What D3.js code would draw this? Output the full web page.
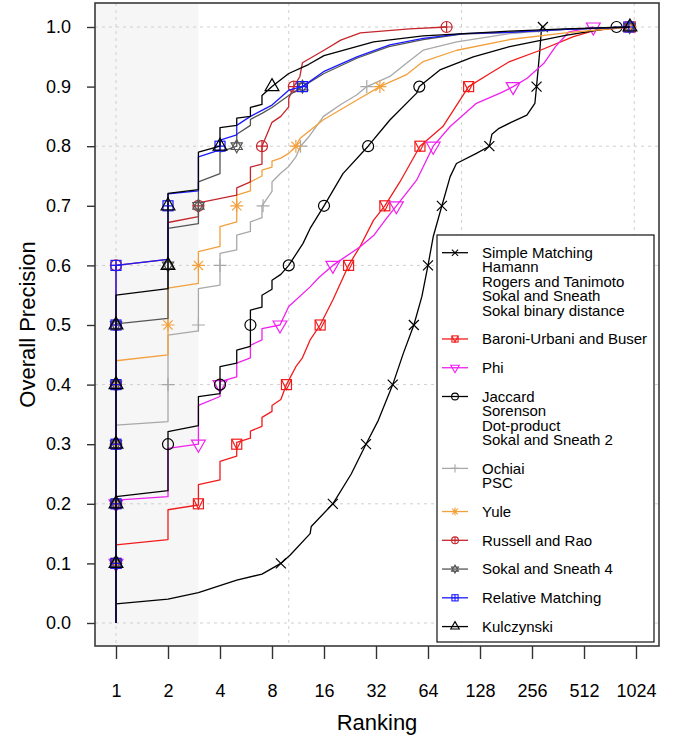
<!DOCTYPE html>
<html>
<head>
<meta charset="utf-8">
<script src="https://cdn.jsdelivr.net/npm/d3@7"></script>
<style>
  body { margin: 0; background: #fff; }
  svg { display: block; font-family: "Liberation Sans", Arial, Helvetica, sans-serif; }
</style>
</head>
<body>
<div id="chart"></div>
<script>
// Precision levels where the markers sit
const levels = [0.1, 0.2, 0.3, 0.4, 0.5, 0.6, 0.7, 0.8, 0.9, 1.0];
const xTicks = [1, 2, 4, 8, 16, 32, 64, 128, 256, 512, 1024];
const yTicks = [0, 0.1, 0.2, 0.3, 0.4, 0.5, 0.6, 0.7, 0.8, 0.9, 1.0];
const xGrid = [1, 10, 100, 1000];
const yGrid = [0, 0.2, 0.4, 0.6, 0.8, 1.0];
const shadeTo = 3;

// [ranking, precision] vertices
const smCurve = [[1,0],[1,0.032],[2,0.04],[3,0.051],[5,0.072],[7,0.082],[9,0.1],[10.2,0.114],[13.3,0.15],[13.5,0.162],[18,0.2],[23,0.25],[28,0.3],[33,0.34],[40,0.4],[46,0.452],[53,0.5],[59,0.548],[64,0.6],[68.6,0.648],[77,0.7],[86,0.749],[93.5,0.771],[122,0.788],[145,0.8],[150,0.82],[165,0.83],[191,0.839],[239,0.852],[266,0.872],[272,0.9],[284,0.96],[291,1.0],[296,1.0]];
const baroniCurve = [[1,0],[1,0.131],[2,0.14],[2,0.19],[3,0.198],[3,0.232],[4,0.24],[4,0.271],[5,0.28],[5,0.303],[6,0.31],[6,0.322],[7,0.33],[7,0.345],[8,0.355],[8,0.365],[9,0.375],[9.7,0.4],[11,0.43],[12,0.445],[13.3,0.475],[15.2,0.5],[18,0.542],[22.2,0.6],[25.8,0.631],[31,0.676],[36,0.7],[44,0.74],[57.5,0.8],[78,0.833],[110,0.9],[146,0.922],[190,0.942],[286,0.961],[445,0.984],[605,0.995],[950,1.0]];
const phiCurve = [[1,0],[1,0.206],[2,0.212],[2,0.293],[3,0.3],[3,0.365],[4,0.38],[4,0.405],[5,0.413],[5,0.436],[6,0.445],[6,0.466],[7,0.475],[7,0.494],[8.9,0.5],[10,0.531],[13.3,0.564],[15,0.58],[18,0.6],[25.8,0.631],[31,0.65],[36.8,0.679],[42,0.7],[55,0.743],[68.6,0.8],[86,0.833],[122,0.872],[170,0.89],[199,0.9],[240,0.914],[300,0.939],[350,0.967],[420,0.992],[580,1.0]];
const jaccardCurve = [[1,0],[1,0.212],[2,0.222],[2,0.321],[3,0.331],[3,0.38],[4,0.385],[4,0.43],[5,0.436],[5,0.458],[6,0.464],[6,0.525],[7,0.53],[7,0.55],[8,0.56],[8,0.575],[9,0.585],[10,0.6],[12.1,0.637],[13.3,0.662],[16,0.7],[20.6,0.754],[28.8,0.8],[38.5,0.844],[55,0.889],[57,0.9],[75,0.928],[117,0.95],[190,0.967],[400,0.986],[790,1.0]];
const ochiaiCurve = [[1,0],[1,0.332],[2,0.338],[2,0.483],[3,0.49],[3,0.561],[4,0.567],[4,0.62],[5,0.626],[5,0.651],[6,0.657],[6,0.673],[7,0.68],[7,0.7],[8,0.724],[8,0.74],[9,0.755],[10,0.766],[11,0.782],[11.7,0.8],[13,0.815],[15.9,0.85],[20,0.87],[24.7,0.886],[28.3,0.9],[38.5,0.917],[48,0.939],[60,0.961],[94,0.975],[190,0.989],[400,0.996],[940,1.0]];
const yuleCurve = [[1,0],[1,0.44],[2,0.45],[2,0.562],[3,0.57],[3,0.623],[4,0.632],[4,0.665],[5,0.673],[5,0.718],[6,0.725],[6,0.74],[7,0.75],[7,0.76],[8,0.765],[8,0.775],[9,0.78],[10,0.788],[11,0.8],[11.6,0.813],[15.8,0.844],[24.7,0.877],[33.7,0.9],[48,0.92],[60,0.942],[94,0.961],[190,0.979],[400,0.99],[950,1.0]];
const russellCurve = [[1,0],[1,0.6],[2,0.61],[2,0.672],[3,0.682],[3,0.705],[5,0.718],[5,0.73],[6,0.74],[6,0.765],[7,0.77],[7,0.8],[8,0.84],[9,0.85],[10,0.866],[10,0.88],[10.7,0.9],[11.6,0.917],[12,0.94],[16,0.961],[20,0.978],[26,0.99],[50,0.997],[82,1.0]];
const sokal4Curve = [[1,0],[1,0.502],[2,0.511],[2,0.662],[3,0.67],[3,0.74],[4,0.754],[4,0.79],[5,0.8],[5,0.82],[6,0.835],[6,0.845],[7,0.855],[8,0.865],[10,0.885],[12,0.9],[16,0.922],[25,0.948],[38,0.967],[60,0.979],[100,0.988],[190,0.991],[400,0.996],[940,1.0]];
const relativeCurve = [[1,0],[1,0.6],[2,0.61],[2,0.72],[3,0.725],[3,0.782],[4,0.794],[4,0.81],[5,0.819],[5,0.835],[6,0.85],[8,0.869],[10,0.894],[12,0.9],[15.9,0.925],[24.8,0.95],[38.5,0.97],[60,0.981],[102,0.989],[190,0.991],[400,0.996],[930,1.0]];
const kulczCurve = [[1,0],[1,0.55],[2,0.561],[2,0.721],[3,0.727],[3,0.79],[4,0.8],[4,0.831],[5,0.835],[5,0.847],[6,0.85],[6,0.865],[7,0.87],[7,0.885],[8,0.9],[10,0.922],[13,0.937],[16,0.952],[31,0.975],[60,0.985],[190,0.993],[400,0.997],[945,1.0]];

// ranking at which each series first reaches each precision level
const smMarks = [9, 18, 28, 40, 53, 64, 77, 145, 272, 296];
const baroniMarks = [1, 3, 5, 9.7, 15.2, 22.2, 36, 57.5, 110, 950];
const phiMarks = [1, 1, 3, 4, 8.9, 18, 42, 68.6, 199, 580];
const jaccardMarks = [1, 1, 2, 4, 6, 10, 16, 28.8, 57, 790];
const ochiaiMarks = [1, 1, 1, 2, 3, 4, 7.1, 11.7, 28.3, 940];
const yuleMarks = [1, 1, 1, 1, 2, 3, 5, 11, 33.7, 950];
const russellMarks = [1, 1, 1, 1, 1, 1, 3, 7, 10.7, 82];
const sokal4Marks = [1, 1, 1, 1, 1, 2, 3, 5, 12, 940];
const relativeMarks = [1, 1, 1, 1, 1, 1, 2, 4, 12, 930];
const kulczMarks = [1, 1, 1, 1, 1, 2, 2, 4, 8, 945];

const series = [
    {labels: ["Simple Matching", "Hamann", "Rogers and Tanimoto", "Sokal and Sneath", "Sokal binary distance"], color: "#000000", pch: 4, curve: smCurve, marks: smMarks},
    {labels: ["Baroni-Urbani and Buser"], color: "#f21b1b", pch: 14, curve: baroniCurve, marks: baroniMarks},
    {labels: ["Phi"], color: "#f020f0", pch: 6, curve: phiCurve, marks: phiMarks},
    {labels: ["Jaccard", "Sorenson", "Dot-product", "Sokal and Sneath 2"], color: "#000000", pch: 1, curve: jaccardCurve, marks: jaccardMarks},
    {labels: ["Ochiai", "PSC"], color: "#a8a8a8", pch: 3, curve: ochiaiCurve, marks: ochiaiMarks},
    {labels: ["Yule"], color: "#f2a03c", pch: 8, curve: yuleCurve, marks: yuleMarks},
    {labels: ["Russell and Rao"], color: "#c4262c", pch: 10, curve: russellCurve, marks: russellMarks},
    {labels: ["Sokal and Sneath 4"], color: "#555555", pch: 11, curve: sokal4Curve, marks: sokal4Marks},
    {labels: ["Relative Matching"], color: "#1a1aff", pch: 12, curve: relativeCurve, marks: relativeMarks},
    {labels: ["Kulczynski"], color: "#000000", pch: 2, curve: kulczCurve, marks: kulczMarks}
];

const W = 678, H = 740;
const box = {left: 95, right: 659, top: 3, bottom: 646};

const x = d3.scaleLog().base(2).domain([1, 1024]).range([116, 636]);
const y = d3.scaleLinear().domain([0, 1]).range([623, 27]);

const svg = d3.select("#chart").append("svg")
    .attr("width", W)
    .attr("height", H);

// shaded band for the first rankings
svg.append("rect")
    .attr("x", box.left)
    .attr("y", box.top)
    .attr("width", x(shadeTo) - box.left)
    .attr("height", box.bottom - box.top)
    .attr("fill", "#f6f6f6");

// dotted grid
const grid = svg.append("g")
    .attr("stroke", "#cfcfcf")
    .attr("stroke-width", 1)
    .attr("stroke-dasharray", "3,4");
grid.selectAll(".gx").data(xGrid).join("line")
    .attr("x1", d => x(d)).attr("x2", d => x(d))
    .attr("y1", box.top).attr("y2", box.bottom);
grid.selectAll(".gy").data(yGrid).join("line")
    .attr("y1", d => y(d)).attr("y2", d => y(d))
    .attr("x1", box.left).attr("x2", box.right);

// R-like plotting symbols
function symbol(g, pch, cx, cy, k, color, sw) {
    const s = g.append("g")
        .attr("transform", `translate(${cx},${cy}) scale(${k})`)
        .attr("fill", "none")
        .attr("stroke", color)
        .attr("stroke-width", sw / k);
    const tri = dir => `M0,${-8 * dir}L6.9,${4 * dir}L-6.9,${4 * dir}Z`;
    switch (pch) {
        case 1: s.append("circle").attr("r", 5.5); break;
        case 2: s.append("path").attr("d", tri(1)); break;
        case 3: s.append("path").attr("d", "M-6.5,0H6.5M0,-6.5V6.5"); break;
        case 4: s.append("path").attr("d", "M-5,-5L5,5M-5,5L5,-5"); break;
        case 6: s.append("path").attr("d", tri(-1)); break;
        case 8: s.append("path").attr("d", "M-6.5,0H6.5M0,-6.5V6.5M-4.6,-4.6L4.6,4.6M-4.6,4.6L4.6,-4.6"); break;
        case 10:
            s.append("circle").attr("r", 5.5);
            s.append("path").attr("d", "M-5.5,0H5.5M0,-5.5V5.5");
            break;
        case 11:
            s.append("path").attr("d", "M0,-6.5L5.6,3.3L-5.6,3.3ZM0,6.5L5.6,-3.3L-5.6,-3.3Z");
            break;
        case 12:
            s.append("rect").attr("x", -5).attr("y", -5).attr("width", 10).attr("height", 10);
            s.append("path").attr("d", "M-5,0H5M0,-5V5");
            break;
        case 14:
            s.append("rect").attr("x", -5).attr("y", -5).attr("width", 10).attr("height", 10);
            s.append("path").attr("d", "M-5,-5L0,5L5,-5");
            break;
    }
}

const line = d3.line()
    .x(d => x(d[0]))
    .y(d => y(d[1]));

const plot = svg.append("g");
series.forEach(s => {
    plot.append("path")
        .datum(s.curve)
        .attr("d", line)
        .attr("fill", "none")
        .attr("stroke", s.color)
        .attr("stroke-width", 1.3)
        .attr("stroke-linejoin", "round");
    s.marks.forEach((r, i) => symbol(plot, s.pch, x(r), y(levels[i]), 1, s.color, 1.2));
});

// legend
const leg = {left: 437, right: 654, top: 235, bottom: 642, row0: 252.7, step: 14.38};
const legend = svg.append("g");
legend.append("rect")
    .attr("x", leg.left).attr("y", leg.top)
    .attr("width", leg.right - leg.left).attr("height", leg.bottom - leg.top)
    .attr("fill", "#fff").attr("stroke", "#111").attr("stroke-width", 1.2);

let row = 0;
series.forEach(s => {
    const ly = leg.row0 + row * leg.step;
    legend.append("line")
        .attr("x1", 442).attr("x2", 468)
        .attr("y1", ly).attr("y2", ly)
        .attr("stroke", s.color).attr("stroke-width", 1.3);
    symbol(legend, s.pch, 455, ly, 0.62, s.color, 1.1);
    // one text per entry, one tspan per line
    const txt = legend.append("text")
        .attr("x", 482)
        .attr("y", ly)
        .attr("font-size", 15)
        .attr("fill", "#000");
    s.labels.forEach((t, j) => {
        txt.append("tspan")
            .attr("x", 482)
            .attr("y", ly + j * leg.step)
            .attr("dy", "0.36em")
            .text(t);
    });
    row += s.labels.length + 1;
});

// frame
svg.append("rect")
    .attr("x", box.left).attr("y", box.top)
    .attr("width", box.right - box.left).attr("height", box.bottom - box.top)
    .attr("fill", "none").attr("stroke", "#3a3a3a").attr("stroke-width", 1.6);

// axes
const xAxis = svg.append("g")
    .attr("transform", `translate(0,${box.bottom})`)
    .call(d3.axisBottom(x).tickValues(xTicks).tickFormat(d3.format("d")).tickSize(13).tickPadding(25));
const yAxis = svg.append("g")
    .attr("transform", `translate(${box.left},0)`)
    .call(d3.axisLeft(y).tickValues(yTicks).tickFormat(d3.format(".1f")).tickSize(8).tickPadding(16));
[xAxis, yAxis].forEach(a => {
    a.select(".domain").remove();
    a.selectAll(".tick line").attr("stroke", "#333").attr("stroke-width", 1.4);
    a.selectAll(".tick text")
        .attr("font-size", 18)
        .attr("font-family", "'Liberation Sans', Arial, Helvetica, sans-serif")
        .attr("fill", "#000");
});

// axis titles
svg.append("text")
    .attr("x", (box.left + box.right) / 2)
    .attr("y", 730)
    .attr("text-anchor", "middle")
    .attr("font-size", 22)
    .text("Ranking");
svg.append("text")
    .attr("transform", `translate(35,${(box.top + box.bottom) / 2}) rotate(-90)`)
    .attr("text-anchor", "middle")
    .attr("font-size", 22)
    .text("Overall Precision");
</script>
</body>
</html>
